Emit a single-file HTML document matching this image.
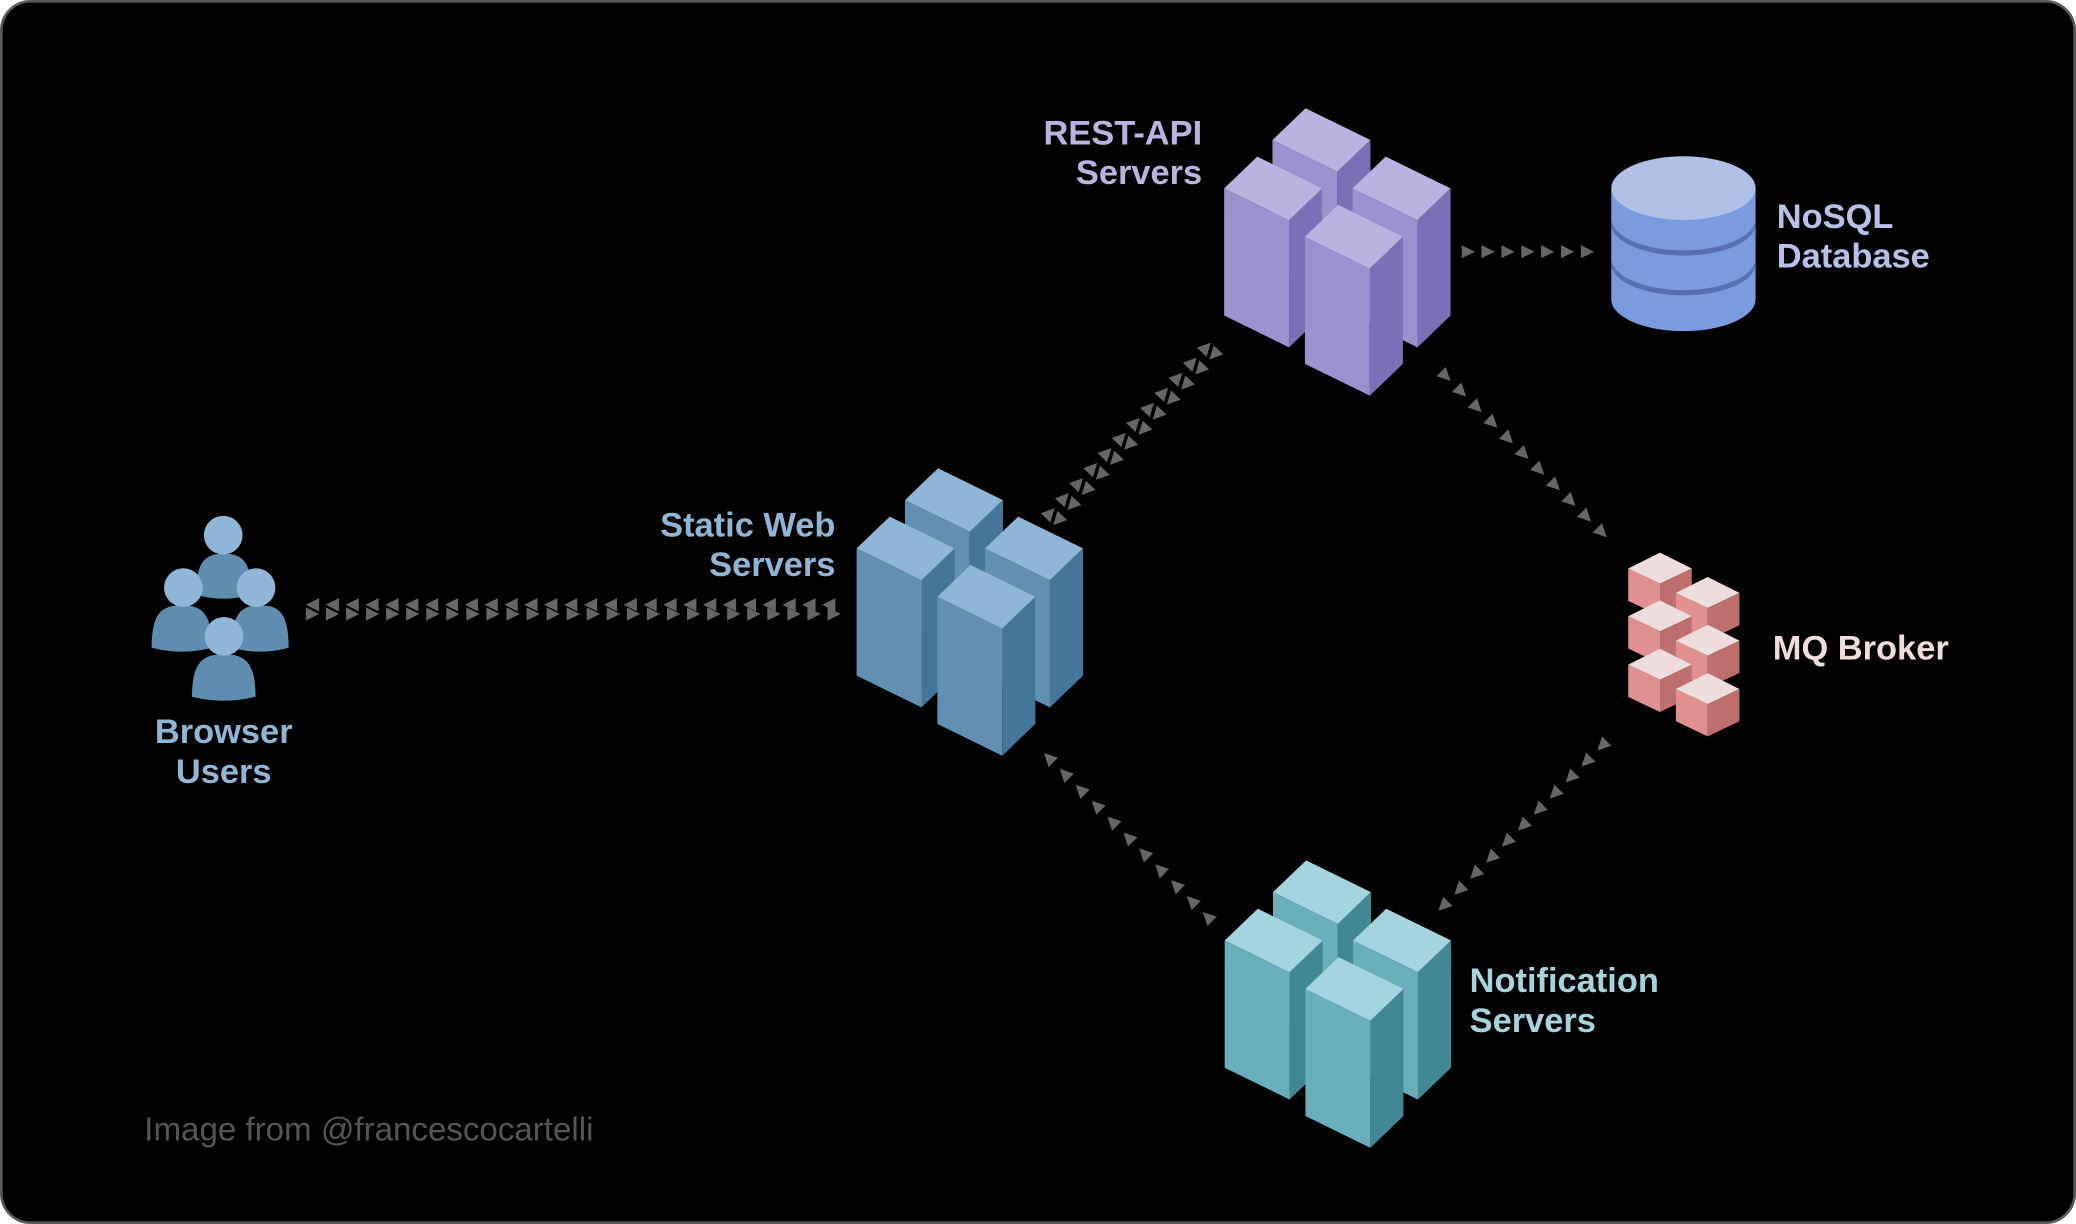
<!DOCTYPE html>
<html><head><meta charset="utf-8"><style>
html,body{margin:0;padding:0;background:#fff;}
svg{display:block;}
text{font-family:"Liberation Sans",Arial,sans-serif;font-weight:bold;font-size:26px;}
</style></head><body>
<svg id="s" width="2076" height="1224" viewBox="0 0 1568 924" preserveAspectRatio="none" xmlns="http://www.w3.org/2000/svg">
<rect x="1" y="1" width="1566" height="922" rx="22" fill="#000" stroke="#5a5a5a" stroke-width="2"/>
<g id="g"></g>
<text x="908" y="109" text-anchor="end" fill="#b9b3e0">REST-API</text>
<text x="908" y="139" text-anchor="end" fill="#b9b3e0">Servers</text>
<text x="1342" y="172" fill="#b8c2e8">NoSQL</text>
<text x="1342" y="202" fill="#b8c2e8">Database</text>
<text x="631" y="405" text-anchor="end" fill="#8fb6d6">Static Web</text>
<text x="631" y="435" text-anchor="end" fill="#8fb6d6">Servers</text>
<text x="169" y="561" text-anchor="middle" fill="#8fb6d6">Browser</text>
<text x="169" y="591" text-anchor="middle" fill="#8fb6d6">Users</text>
<text x="1339" y="498" fill="#f0dede">MQ Broker</text>
<text x="1110" y="749" fill="#a5d5dc">Notification</text>
<text x="1110" y="779" fill="#a5d5dc">Servers</text>
<text x="109" y="861" fill="#555" style="font-weight:normal;font-size:25px">Image from @francescocartelli</text>
</svg>
<script>
var g=document.getElementById('g'),NS='http://www.w3.org/2000/svg';
function poly(pts,f){var p=document.createElementNS(NS,'polygon');p.setAttribute('points',pts.map(function(a){return a[0]+','+a[1]}).join(' '));p.setAttribute('fill',f);g.appendChild(p);}
function prism(x,y,c){var H=96;var L=[x,y],T=[x+25,y-24],R=[x+74,y],F=[x+49,y+24];
poly([L,T,R,F],c[0]);poly([L,F,[F[0],F[1]+H],[x,y+H]],c[1]);poly([F,R,[R[0],R[1]+H],[F[0],F[1]+H]],c[2]);}
function cluster(x,y,c){prism(x+36.5,y-36.5,c);prism(x,y,c);prism(x+97,y,c);prism(x+61,y+36.5,c);}
cluster(924.6,142.2,['#b9b3e0','#9b91cf','#7b6fb5']);
cluster(647,414,['#8fb6d6','#6090b2','#44759a']);
cluster(925,710,['#a5d5dc','#68afba','#428892']);
function tri(x,y,ang){var a=ang*Math.PI/180,c=Math.cos(a),s=Math.sin(a);
var pts=[[5,0],[-5,-5],[-5,5]].map(function(p){return [x+p[0]*c-p[1]*s,y+p[0]*s+p[1]*c]});poly(pts,'#666');}
function line(x1,y1,x2,y2,n,dir,off){var dx=x2-x1,dy=y2-y1,ang=Math.atan2(dy,dx)*180/Math.PI;var l=Math.hypot(dx,dy),px=-dy/l*(off||0),py=dx/l*(off||0);
for(var i=0;i<n;i++){var t=i/(n-1);tri(x1+dx*t+px,y1+dy*t+py,dir>0?ang:ang+180);}}
line(236,460,626,460,27,-1,-3.5);line(236,460,630,460,27,1,3.5);
line(1109,190,1199,190,7,1,0);
line(796,390,914,265,12,1,-4);line(796,390,914,265,12,-1,4);
line(1092,284,1210,402,11,1,0);
line(1210,563,1090,684,11,1,0);
line(912,692,792,572,11,1,0);
(function(){var cx=1271.5,rx=54.5;
var e=function(cy,f){var el=document.createElementNS(NS,'ellipse');el.setAttribute('cx',cx);el.setAttribute('cy',cy);el.setAttribute('rx',rx);el.setAttribute('ry',24);el.setAttribute('fill',f);g.appendChild(el);};
e(226,'#7b9be0');var r=document.createElementNS(NS,'rect');r.setAttribute('x',cx-rx);r.setAttribute('y',142);r.setAttribute('width',2*rx);r.setAttribute('height',84);r.setAttribute('fill','#7b9be0');g.appendChild(r);
e(199,'#5670b0');e(195,'#7b9be0');e(169,'#5670b0');e(165,'#7b9be0');e(142,'#b0c0e6');})();
(function(){var cs=[[1253.8,417.2],[1289.8,435.6],[1253.8,453.2],[1289.8,471.6],[1253.8,489.7],[1289.8,508.1]];
cs.forEach(function(c){var x=c[0],y=c[1],h=24.4;var T=[x,y],L=[x-24,y+12],F=[x,y+23.4],R=[x+24,y+12];
poly([T,R,F,L],'#efdcdc');poly([L,F,[F[0],F[1]+h],[L[0],L[1]+h]],'#e09090');poly([F,R,[R[0],R[1]+h],[F[0],F[1]+h]],'#bf6e6e');});})();
(function(){function body(x1,x2,y1,y2){var p=document.createElementNS(NS,'path');var w=x2-x1;
p.setAttribute('d','M'+x1+','+(y2-3)+' C'+x1+','+(y1+4)+' '+(x1+w*0.2)+','+y1+' '+(x1+w/2)+','+y1+' C'+(x2-w*0.2)+','+y1+' '+x2+','+(y1+4)+' '+x2+','+(y2-3)+' Q'+(x1+w/2)+','+(y2+3)+' '+x1+','+(y2-3)+'Z');p.setAttribute('fill','#5f8db0');g.appendChild(p);}
function head(cx,cy){var c=document.createElementNS(NS,'circle');c.setAttribute('cx',cx);c.setAttribute('cy',cy);c.setAttribute('r',14.6);c.setAttribute('fill','#8fb6d6');g.appendChild(c);}
body(148,190,418,452);head(168.6,404);
body(114.5,160,457,492);head(138.5,443.6);
body(175,218,457,492);head(193.4,443.6);
body(145,193,494,529);head(169.2,480.4);})();
</script>
</body></html>
